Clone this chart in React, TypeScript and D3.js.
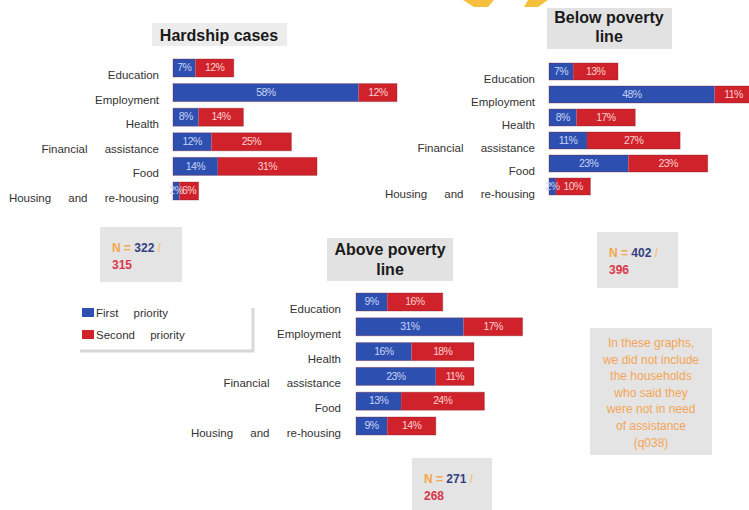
import React from "react";
import * as d3 from "d3";

const categories = ["Education", "Employment", "Health", "Financial assistance", "Food", "Housing and re-housing"];
const hardshipFirst = [7, 58, 8, 12, 14, 2];
const hardshipSecond = [12, 12, 14, 25, 31, 6];
const belowFirst = [7, 48, 8, 11, 23, 2];
const belowSecond = [13, 11, 17, 27, 23, 10];
const aboveFirst = [9, 31, 16, 23, 13, 9];
const aboveSecond = [16, 17, 18, 11, 24, 14];
const seriesNames = ["First priority", "Second priority"];

const BLUE = "#2d4fb0";
const RED = "#d0222a";
const FONT = "'Liberation Sans', Arial, sans-serif";

type PanelProps = {
  first: number[];
  second: number[];
  x0: number;
  y0: number;
  step: number;
  h: number;
  k: number;
  labelX: number;
};

function Panel({ first, second, x0, y0, step, h, k, labelX }: PanelProps) {
  const x = d3.scaleLinear().domain([0, 100]).range([x0, x0 + 100 * k]);
  const y = d3
    .scaleBand<string>()
    .domain(categories)
    .range([y0, y0 + 5 * step + h])
    .paddingInner(1 - h / step)
    .paddingOuter(0);
  return (
    <g>
      {categories.map((c, i) => {
        const yy = y(c) as number;
        const bw = y.bandwidth();
        const xb0 = x(0);
        const xb1 = x(first[i]);
        const xr1 = x(first[i] + second[i]);
        return (
          <g key={c}>
            <text
              x={labelX}
              y={yy + bw / 2 + 8}
              textAnchor="end"
              dominantBaseline="middle"
              fontFamily={FONT}
              fontSize={11.5}
              fill="#333"
              style={{ wordSpacing: "14px" }}
            >
              {c}
            </text>
            <rect x={xb0} y={yy} width={xb1 - xb0} height={bw} fill={BLUE} />
            <rect x={xb1} y={yy} width={xr1 - xb1} height={bw} fill={RED} />
            <rect x={xb0} y={yy} width={xr1 - xb0} height={bw} fill="none" stroke="#7a2030" strokeOpacity={0.35} strokeWidth={1} />
            <text
              x={(xb0 + xb1) / 2}
              y={yy + bw / 2 + 0.5}
              textAnchor="middle"
              dominantBaseline="middle"
              fontFamily={FONT}
              fontSize={10.5}
              letterSpacing={-0.6}
              fill="#c8d4f4"
            >
              {first[i]}%
            </text>
            <text
              x={(xb1 + xr1) / 2}
              y={yy + bw / 2 + 0.5}
              textAnchor="middle"
              dominantBaseline="middle"
              fontFamily={FONT}
              fontSize={10.5}
              letterSpacing={-0.6}
              fill="#f8d2d2"
            >
              {second[i]}%
            </text>
          </g>
        );
      })}
    </g>
  );
}

function NBox({ x, y, w, h, a, b }: { x: number; y: number; w: number; h: number; a: string; b: string }) {
  return (
    <g fontFamily={FONT} fontSize={12} fontWeight="bold">
      <rect x={x} y={y} width={w} height={h} fill="#e4e4e4" />
      <text x={x + 12} y={y + 25}>
        <tspan fill="#f4a64a">N = </tspan>
        <tspan fill="#34407e">{a}</tspan>
        <tspan fill="#f4c48a"> /</tspan>
      </text>
      <text x={x + 12} y={y + 42} fill="#d9364a">
        {b}
      </text>
    </g>
  );
}

export default function App() {
  const noteLines = ["In these graphs,", "we did not include", "the households", "who said they", "were not in need", "of assistance", "(q038)"];
  return (
    <svg width={749} height={510} style={{ position: "absolute", left: 0, top: 0, background: "#fff" }}>
      <rect width={749} height={510} fill="#fff" />
      {/* top decoration */}
      <polygon points="463,0 494,0 488,7 474,7" fill="#f6b41c" opacity={0.85} />
      <polygon points="528,0 548,0 538,7 524,7" fill="#f6b41c" opacity={0.85} />

      {/* Titles */}
      <rect x={152} y={23} width={135} height={23} fill="#ececec" />
      <text x={219} y={41} textAnchor="middle" fontFamily={FONT} fontWeight="bold" fontSize={16} fill="#1a1a1a">
        Hardship cases
      </text>
      <rect x={547} y={8} width={125} height={41} fill="#e2e2e2" />
      <text x={609} y={23} textAnchor="middle" fontFamily={FONT} fontWeight="bold" fontSize={16} fill="#1a1a1a">
        Below poverty
      </text>
      <text x={609} y={42} textAnchor="middle" fontFamily={FONT} fontWeight="bold" fontSize={16} fill="#1a1a1a">
        line
      </text>
      <rect x={327} y={238} width={126} height={43} fill="#e2e2e2" />
      <text x={390} y={255} textAnchor="middle" fontFamily={FONT} fontWeight="bold" fontSize={16} fill="#1a1a1a">
        Above poverty
      </text>
      <text x={390} y={275} textAnchor="middle" fontFamily={FONT} fontWeight="bold" fontSize={16} fill="#1a1a1a">
        line
      </text>

      <Panel first={hardshipFirst} second={hardshipSecond} x0={173} y0={59} step={24.6} h={18} k={3.2} labelX={159} />
      <Panel first={belowFirst} second={belowSecond} x0={549} y0={63} step={23} h={17} k={3.45} labelX={535} />
      <Panel first={aboveFirst} second={aboveSecond} x0={356} y0={293} step={24.8} h={18} k={3.47} labelX={341} />

      <NBox x={100} y={227} w={82} h={55} a="322" b="315" />
      <NBox x={597} y={232} w={81} h={56} a="402" b="396" />
      <NBox x={412} y={458} w={80} h={56} a="271" b="268" />

      {/* Legend */}
      <g fontFamily={FONT} fontSize={11.5} fill="#333">
        <path d="M253,308 L253,351 L80,351" fill="none" stroke="#d8d8d8" strokeWidth={3} />
        <rect x={82} y={308} width={12} height={9} fill={BLUE} />
        <text x={96} y={317} style={{ wordSpacing: "12px" }}>{seriesNames[0]}</text>
        <rect x={82} y={330} width={12} height={9} fill={RED} />
        <text x={96} y={339} style={{ wordSpacing: "12px" }}>{seriesNames[1]}</text>
      </g>

      {/* Note */}
      <rect x={590} y={328} width={122} height={127} fill="#e4e4e4" />
      <g fontFamily={FONT} fontSize={12} fill="#f4a454" textAnchor="middle">
        {noteLines.map((l, i) => (
          <text key={i} x={651} y={347 + i * 16.6}>
            {l}
          </text>
        ))}
      </g>
    </svg>
  );
}
